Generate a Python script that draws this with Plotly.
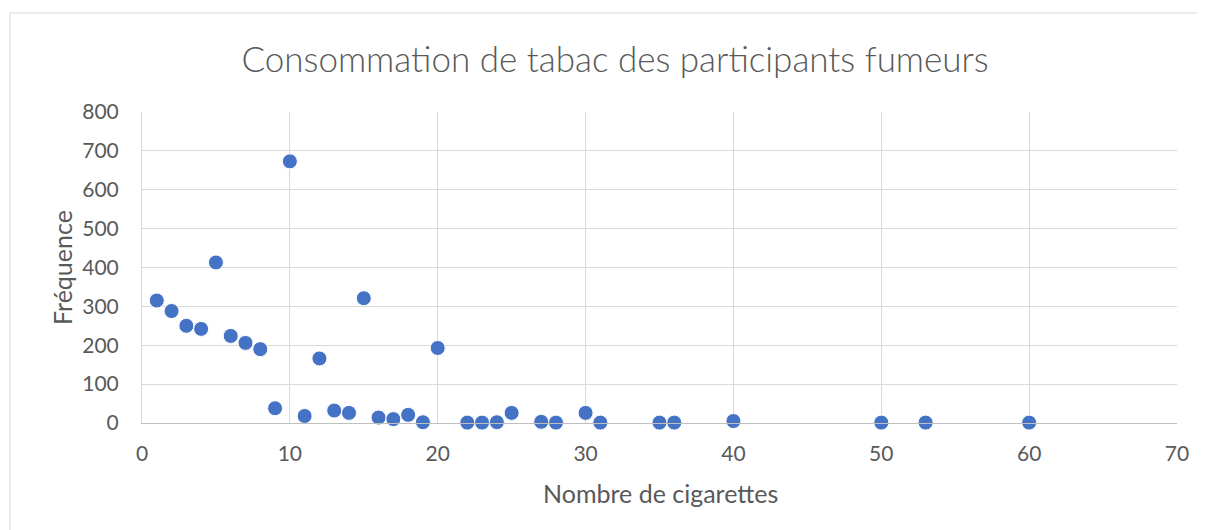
import plotly.graph_objects as go

cigarettes = [1, 2, 3, 4, 5, 6, 7, 8, 9, 10, 11, 12, 13, 14, 15, 16, 17, 18, 19, 20,
              22, 23, 24, 25, 27, 28, 30, 31, 35, 36, 40, 50, 53, 60]
frequence = [315, 288, 250, 242, 413, 224, 206, 190, 38, 673, 18, 166, 32, 26, 321, 14, 10, 21, 2, 193,
             1, 1, 2, 26, 3, 1, 26, 1, 1, 1, 5, 1, 1, 1]

x_ticks = [0, 10, 20, 30, 40, 50, 60, 70]
y_ticks = [0, 100, 200, 300, 400, 500, 600, 700, 800]

title_text = "Consommation de tabac des participants fumeurs"
x_title = "Nombre de cigarettes"
y_title = "Fréquence"

FONT = "Lato"
GREY = "#595959"

# page body has an 8px margin: figure pixel = screen pixel - 8
OFF = 8
W, H = 1205 - OFF, 530 - OFF
L, R, T, B = 142 - OFF, 1177 - OFF, 112 - OFF, 423 - OFF
PW, PH = R - L, B - T


def px(sx):
    return (sx - OFF - L) / PW


def py(sy):
    return (B - (sy - OFF)) / PH


fig = go.Figure()
fig.add_trace(go.Scatter(
    x=cigarettes, y=frequence, mode="markers",
    marker=dict(color="#4472C4", size=15, line=dict(color="white", width=1)),
    showlegend=False, cliponaxis=False, hoverinfo="skip",
))

fig.update_layout(
    width=W, height=H,
    margin=dict(l=L, r=W - R, t=T, b=H - B),
    paper_bgcolor="white", plot_bgcolor="white",
    hovermode=False,
    font=dict(family=FONT, color=GREY, size=21),
    title=dict(text=title_text, x=(615 - OFF) / W, xanchor="center", y=1 - (60 - OFF) / H, yanchor="middle",
               font=dict(family=FONT + " Light, " + FONT, size=35, color=GREY, weight=300)),
    xaxis=dict(range=[0, 70], tickvals=x_ticks, showgrid=True, gridcolor="#d9d9d9", gridwidth=1,
               zeroline=False, showline=True, linecolor="#bfbfbf", linewidth=1,
               ticks="", ticklabelstandoff=12, tickfont=dict(size=21, color=GREY)),
    yaxis=dict(range=[0, 800], tickvals=y_ticks, showgrid=True, gridcolor="#d9d9d9", gridwidth=1,
               zeroline=False, showline=True, linecolor="#d9d9d9", linewidth=1,
               ticks="", ticklabelstandoff=18, tickfont=dict(size=21, color=GREY)),
    annotations=[
        dict(text=x_title, xref="paper", yref="paper", x=px(660), y=py(493),
             xanchor="center", yanchor="middle", showarrow=False,
             font=dict(size=25, color=GREY, family=FONT)),
        dict(text=y_title, xref="paper", yref="paper", x=px(62), y=py(268),
             xanchor="center", yanchor="middle", showarrow=False, textangle=-90,
             font=dict(size=25, color=GREY, family=FONT)),
    ],
    shapes=[dict(type="rect", xref="paper", yref="paper",
                 x0=px(10), x1=px(1225), y0=py(580), y1=py(13),
                 line=dict(color="#d9d9d9", width=1), fillcolor="rgba(0,0,0,0)", layer="below")],
)

fig.write_html("out.html", config={"staticPlot": True})
